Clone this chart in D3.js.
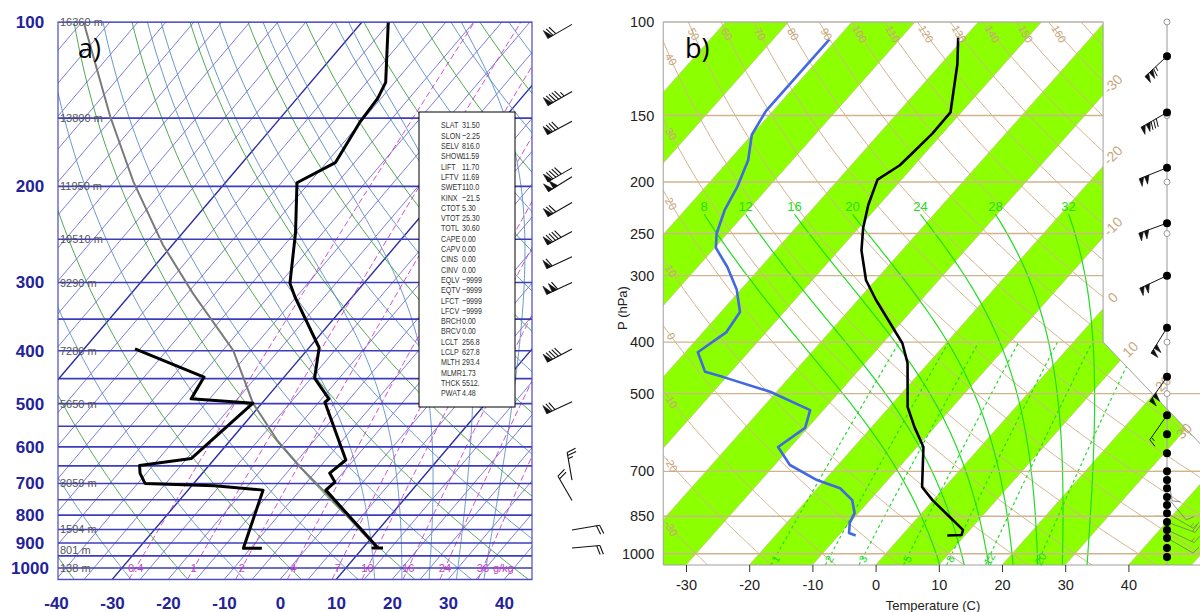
<!DOCTYPE html>
<html>
<head>
<meta charset="utf-8">
<script src="https://cdn.jsdelivr.net/npm/d3@7"></script>
<style>
body { margin: 0; background: #fff; }
svg { display: block; }
</style>
</head>
<body>
<script>
// ---------- panel a : GEMPAK style skew-T ----------
var presTicksA = [100, 200, 300, 400, 500, 600, 700, 800, 900, 1000];
var presLinesA = [100, 150, 200, 250, 300, 350, 400, 450, 500, 550, 600, 650, 700, 750, 800, 850, 900, 950, 1000, 1050];
var tempTicksA = [-40, -30, -20, -10, 0, 10, 20, 30, 40];
var heightP = [100, 150, 200, 250, 300, 400, 500, 700, 850, 925, 1000];
var heightLab = ['16360 m', '13800 m', '11950 m', '10510 m', '9290 m', '7280 m', '5650 m', '3059 m', '1504 m', '801 m', '138 m'];
var mixA = [0.4, 1, 2, 4, 7, 10, 16, 24, 36];

var tempA_p = [100, 129, 138, 152, 181, 197, 243, 301, 319, 395, 449, 490, 497, 634, 670, 696, 720, 919, 919, 919];
var tempA_t = [-65.3, -56.6, -55.6, -55.2, -53.4, -57.2, -49.9, -43.2, -40.2, -28.2, -24.4, -18.7, -18.9, -6.4, -7.3, -5.0, -5.4, 12.7, 11.8, 13.6];
var dewA_p = [397, 447, 490, 499, 630, 649, 671, 700, 707, 720, 920, 920];
var dewA_t = [-60.9, -44.3, -43.3, -31.6, -34.2, -42.4, -41.1, -38.7, -25.9, -16.6, -11.3, -8.0];
var parcelA_p = [100, 149, 196, 256, 314, 399, 499, 583, 653, 720, 919];
var parcelA_t = [-119.7, -100.6, -86.6, -71.7, -59.0, -43.2, -31.6, -21.7, -13.5, -5.9, 12.5];

var statNames = ['SLAT', 'SLON', 'SELV', 'SHOW', 'LIFT', 'LFTV', 'SWET', 'KINX', 'CTOT', 'VTOT', 'TOTL', 'CAPE', 'CAPV', 'CINS', 'CINV',
  'EQLV', 'EQTV', 'LFCT', 'LFCV', 'BRCH', 'BRCV', 'LCLT', 'LCLP', 'MLTH', 'MLMR', 'THCK', 'PWAT'];
var statVals = ['31.50', '\u22122.25', '816.0', '11.59', '11.70', '11.69', '110.0', '\u221221.5', '5.30', '25.30', '30.60', '0.00', '0.00', '0.00', '0.00',
  '\u22129999', '\u22129999', '\u22129999', '\u22129999', '0.00', '0.00', '256.8', '627.8', '293.4', '1.73', '5512.', '4.48'];

var windA_p = [101, 134, 152, 185, 192, 214, 242, 269, 300, 397, 496, 690, 752, 852, 919];
var windA_dir = [240, 240, 242, 240, 238, 240, 242, 245, 245, 242, 245, 350, 330, 80, 85];
var windA_spd = [70, 95, 80, 90, 100, 70, 90, 60, 110, 90, 70, 25, 20, 20, 20];

// ---------- panel b : RadioSonde style skew-T ----------
var presTicksB = [100, 150, 200, 250, 300, 400, 500, 700, 850, 1000];
var tempTicksB = [-30, -20, -10, 0, 10, 20, 30, 40];
var mixB = [1, 2, 3, 5, 8, 12, 20];
var satB = [8, 12, 16, 20, 24, 28, 32];
var isoLabB = [-30, -20, -10, 0, 10, 20, 30];

var tempB_p = [107, 120, 148, 162, 176, 186, 198, 221, 244, 269, 306, 333, 402, 438, 530, 578, 630, 749, 793, 853, 902, 922, 924];
var tempB_t = [-61.0, -57.4, -51.7, -51.6, -52.0, -52.3, -53.8, -51.7, -49.3, -46.4, -41.5, -37.2, -26.9, -23.3, -17.1, -13.2, -9.0, -3.6, -0.1, 5.0, 8.9, 9.4, 7.2];
var dewB_p = [108, 147, 163, 182, 204, 226, 250, 266, 289, 319, 351, 383, 418, 455, 465, 496, 537, 580, 630, 681, 727, 753, 793, 839, 875, 914, 924];
var dewB_t = [-81.1, -81.1, -80.0, -77.0, -75.0, -73.7, -71.7, -69.8, -65.3, -60.6, -57.0, -56.3, -58.0, -54.1, -50.6, -41.0, -32.1, -30.4, -32.0, -27.6, -21.2, -16.4, -12.8, -10.6, -10.0, -8.7, -7.3];

var windB_p = [116, 148, 188, 239, 300, 376, 465, 549, 596, 647, 700, 727, 753, 782, 810, 839, 872, 902, 934, 976, 1014];
var windB_dir = [227, 240, 248, 250, 245, 212, 215, 215, 0, 0, 170, 0, 0, 140, 0, 120, 110, 115, 120, 0, 0];
var windB_spd = [115, 130, 100, 100, 100, 100, 100, 15, 0, 0, 10, 0, 0, 10, 0, 15, 20, 15, 10, 0, 0];
var ringB_p = [100, 150, 200, 250, 400, 500];

// ---------- helpers ----------
function zip(ps, ts) { return ps.map(function (p, i) { return {p: p, t: ts[i]}; }); }
function dryT(th, p) { return (th + 273.15) * Math.pow(p / 1000, 0.286) - 273.15; }
function tdW(w, p) { var e = w * p / (622 + w), l = Math.log(e / 6.112); return 243.5 * l / (17.67 - l); }
function satMix(t, p) { var es = 6.112 * Math.exp(17.67 * t / (t + 243.5)); return 0.622 * es / (p - es); }
function lapse(t, p) {
  var T = t + 273.15, rs = satMix(t, p);
  return (287.04 * T + 2.501e6 * rs) / (p * (1005.7 + 2.501e6 * 2.501e6 * rs * 0.622 / (287.04 * T * T)));
}
function moist(t0, pTop) {
  var dp = 5, down = [], t = t0, k1, k2, pp;
  for (pp = 1000; pp < 1050; pp += dp) {
    k1 = lapse(t, pp); k2 = lapse(t + k1 * dp, pp + dp);
    t += 0.5 * (k1 + k2) * dp; down.push({p: pp + dp, t: t});
  }
  var out = down.reverse();
  out.push({p: 1000, t: t0});
  t = t0;
  for (pp = 1000; pp > pTop; pp -= dp) {
    k1 = lapse(t, pp); k2 = lapse(t - k1 * dp, pp - dp);
    t -= 0.5 * (k1 + k2) * dp; out.push({p: pp - dp, t: t});
  }
  return out;
}
var pPath = d3.range(1050, 99, -5);

function drawBarb(g, x0, y0, dir, spd, o) {
  if (!spd) return;
  var r = dir * Math.PI / 180, ux = Math.sin(r), uy = -Math.cos(r);
  var fx = o.side > 0 ? -uy : uy, fy = o.side > 0 ? ux : -ux;
  var tx = x0 + ux * o.len, ty = y0 + uy * o.len;
  g.append('line').attr('x1', x0).attr('y1', y0).attr('x2', tx).attr('y2', ty)
    .attr('stroke', o.color).attr('stroke-width', o.width);
  var s = Math.round(spd / 5) * 5, pos = 0;
  while (s >= 50) {
    var ax0 = tx - ux * pos, ay0 = ty - uy * pos;
    var bx1 = tx - ux * (pos + o.gap * 1.6), by1 = ty - uy * (pos + o.gap * 1.6);
    g.append('path').attr('d', 'M' + ax0 + ',' + ay0 + 'L' + (ax0 + fx * o.feather) + ',' + (ay0 + fy * o.feather) + 'L' + bx1 + ',' + by1 + 'Z')
      .attr('fill', o.color).attr('stroke', o.color).attr('stroke-width', 0.6);
    pos += o.gap * 1.6 + 1; s -= 50;
  }
  if (pos === 0 && s < 10) pos = o.gap;
  while (s >= 5) {
    var f = s >= 10 ? o.feather : o.feather * 0.55;
    var bx = tx - ux * pos, by = ty - uy * pos;
    g.append('line').attr('x1', bx).attr('y1', by)
      .attr('x2', bx + fx * f + ux * f * 0.3).attr('y2', by + fy * f + uy * f * 0.3)
      .attr('stroke', o.color).attr('stroke-width', o.width);
    pos += o.gap; s -= (s >= 10 ? 10 : 5);
  }
}

var svg = d3.select('body').append('svg')
  .attr('width', 1200).attr('height', 612)
  .style('font-family', '"Liberation Sans", Arial, sans-serif');
var defs = svg.append('defs');

// ================= panel a =================
var yA = d3.scaleLog().domain([1050, 100]).range([579.6, 22]);
var xA = d3.scaleLinear().domain([-40, 45]).range([56, 532]);
var skA = 0.85;
function ax(t, p) { return xA(t) + skA * (yA(1050) - yA(p)); }
var lineA = d3.line().x(function (d) { return ax(d.t, d.p); }).y(function (d) { return yA(d.p); });

defs.append('clipPath').attr('id', 'clipA').append('rect')
  .attr('x', 58).attr('y', 22).attr('width', 474).attr('height', yA(1050) - 22);

var gA = svg.append('g').attr('clip-path', 'url(#clipA)');

// isotherms
d3.range(-125, 50, 5).forEach(function (t) {
  var dark = (t === -70 || t === -30 || t === 10);
  gA.append('line')
    .attr('x1', ax(t, 1050)).attr('y1', yA(1050)).attr('x2', ax(t, 100)).attr('y2', yA(100))
    .attr('stroke', dark ? '#2a2aa6' : '#6e6ed8').attr('stroke-width', dark ? 1.4 : 0.9);
});
// dry adiabats
d3.range(-50, 190, 10).forEach(function (th) {
  gA.append('path').attr('d', lineA(pPath.map(function (p) { return {p: p, t: dryT(th, p)}; })))
    .attr('fill', 'none').attr('stroke', th % 20 === 0 ? '#3c9e3c' : '#5a8cc4').attr('stroke-width', 0.9);
});
// moist adiabats
d3.range(15, 40, 5).forEach(function (t0) {
  gA.append('path').attr('d', lineA(moist(t0, 100)))
    .attr('fill', 'none').attr('stroke', '#5a8cc4').attr('stroke-width', 0.9);
});
// mixing ratio
mixA.forEach(function (w) {
  gA.append('path').attr('d', lineA(d3.range(1050, 99, -10).map(function (p) { return {p: p, t: tdW(w, p)}; })))
    .attr('fill', 'none').attr('stroke', '#c63ec6').attr('stroke-width', 0.9).attr('stroke-dasharray', '6,3');
});
// pressure lines
presLinesA.forEach(function (p) {
  gA.append('line').attr('x1', 58).attr('x2', 532).attr('y1', yA(p)).attr('y2', yA(p))
    .attr('stroke', '#3c3cbc').attr('stroke-width', 1.6);
});
// profiles
gA.append('path').attr('d', lineA(zip(parcelA_p, parcelA_t)))
  .attr('fill', 'none').attr('stroke', '#7a7a7a').attr('stroke-width', 2);
gA.append('path').attr('d', lineA(zip(tempA_p, tempA_t)))
  .attr('fill', 'none').attr('stroke', '#000').attr('stroke-width', 3).attr('stroke-linejoin', 'round');
gA.append('path').attr('d', lineA(zip(dewA_p, dewA_t)))
  .attr('fill', 'none').attr('stroke', '#000').attr('stroke-width', 3).attr('stroke-linejoin', 'round');

svg.append('rect').attr('x', 58).attr('y', 22).attr('width', 474).attr('height', yA(1050) - 22)
  .attr('fill', 'none').attr('stroke', '#4a4ac4').attr('stroke-width', 1.2);

// height labels
heightP.forEach(function (p, i) {
  svg.append('text').attr('x', 60).attr('y', yA(p) + 4).text(heightLab[i])
    .attr('font-size', 11).attr('fill', '#555');
});
// mixing ratio labels
mixA.forEach(function (w) {
  svg.append('text').attr('x', ax(tdW(w, 1000), 1000)).attr('y', yA(1000) + 4)
    .attr('text-anchor', 'middle').attr('font-size', 11).attr('fill', '#c63ec6').text(w);
});
svg.append('text').attr('x', ax(tdW(36, 1000), 1000) + 10).attr('y', yA(1000) + 4)
  .attr('font-size', 11).attr('fill', '#c63ec6').text('g/kg');

// axes a
var axLA = svg.append('g').attr('transform', 'translate(30,0)')
  .call(d3.axisLeft(yA).tickValues(presTicksA).tickSize(0).tickFormat(function (d) { return d; }));
axLA.select('.domain').remove();
axLA.selectAll('text').attr('x', 0).attr('text-anchor', 'middle')
  .attr('font-size', 17).attr('font-weight', 'bold').attr('fill', '#22229a')
  .attr('font-family', '"Liberation Sans", Arial, sans-serif');
var axBA = svg.append('g').attr('transform', 'translate(0,590)')
  .call(d3.axisBottom(xA).tickValues(tempTicksA).tickSize(0).tickPadding(7).tickFormat(function (d) { return d; }));
axBA.select('.domain').remove();
axBA.selectAll('text').attr('font-size', 17).attr('font-weight', 'bold').attr('fill', '#22229a')
  .attr('font-family', '"Liberation Sans", Arial, sans-serif');

// stats box
svg.append('rect').attr('x', 419).attr('y', 112).attr('width', 96).attr('height', 295)
  .attr('fill', '#fff').attr('stroke', '#000').attr('stroke-width', 1);
var gS = svg.append('g').attr('transform', 'translate(441,0) scale(0.75,1)');
statNames.forEach(function (n, i) {
  var y = 128.5 + i * 10.3;
  gS.append('text').attr('x', 0).attr('y', y).text(n).attr('font-size', 9.5).attr('fill', '#333');
  gS.append('text').attr('x', 28).attr('y', y).text(statVals[i]).attr('font-size', 9.5).attr('fill', '#333');
});

// winds a
var gWA = svg.append('g');
windA_p.forEach(function (p, i) {
  drawBarb(gWA, 572, yA(p), windA_dir[i], windA_spd[i], {len: 28, feather: 9, gap: 3.2, side: 1, color: '#111', width: 1.1});
});

svg.append('text').attr('x', 78).attr('y', 58).text('a)')
  .attr('font-size', 27).attr('font-family', '"Open Sans", sans-serif').attr('fill', '#000');

// ================= panel b =================
var yB = d3.scaleLog().domain([1050, 100]).range([565, 21.9]);
var xB = d3.scaleLinear().domain([-30, 40]).range([686, 1128.4]);
var skB = 0.8874;
function bx(t, p) { return xB(t) + skB * (yB(1050) - yB(p)); }
var lineB = d3.line().x(function (d) { return bx(d.t, d.p); }).y(function (d) { return yB(d.p); });

var leftB = bx(-33.6, 1050), kinkX = bx(4.7, 400), maxX = bx(50, 1000);
var polyB = [[leftB, yB(100)], [leftB, yB(1050)], [maxX, yB(1050)], [maxX, yB(625)], [kinkX, yB(400)], [kinkX, yB(100)]];
defs.append('clipPath').attr('id', 'clipB').append('polygon')
  .attr('points', polyB.map(function (d) { return d.join(','); }).join(' '));

var gB = svg.append('g').attr('clip-path', 'url(#clipB)');
var TAN = '#d2b48c', GRN = '#22dd22';

// green isotherm bands
d3.range(-100, 50, 20).forEach(function (t) {
  var pts = [[bx(t, 1050), yB(1050)], [bx(t + 10, 1050), yB(1050)], [bx(t + 10, 100), yB(100)], [bx(t, 100), yB(100)]];
  gB.append('polygon').attr('points', pts.map(function (d) { return d.join(','); }).join(' '))
    .attr('fill', '#8cff00');
});
d3.range(-100, 60, 10).forEach(function (t) {
  gB.append('line').attr('x1', bx(t, 1050)).attr('y1', yB(1050)).attr('x2', bx(t, 100)).attr('y2', yB(100))
    .attr('stroke', TAN).attr('stroke-width', 0.6);
});
// dry adiabats
d3.range(-30, 180, 10).forEach(function (th) {
  gB.append('path').attr('d', lineB(pPath.map(function (p) { return {p: p, t: dryT(th, p)}; })))
    .attr('fill', 'none').attr('stroke', TAN).attr('stroke-width', 1);
});
// saturated adiabats
satB.forEach(function (t0) {
  gB.append('path').attr('d', lineB(moist(t0, 230)))
    .attr('fill', 'none').attr('stroke', GRN).attr('stroke-width', 1.2);
});
// mixing ratio
mixB.forEach(function (w) {
  gB.append('path').attr('d', lineB(d3.range(1050, 399, -10).map(function (p) { return {p: p, t: tdW(w, p)}; })))
    .attr('fill', 'none').attr('stroke', GRN).attr('stroke-width', 1.2).attr('stroke-dasharray', '3,3');
});
// pressure lines
presTicksB.forEach(function (p) {
  gB.append('line').attr('x1', leftB).attr('x2', 1201).attr('y1', yB(p)).attr('y2', yB(p))
    .attr('stroke', TAN).attr('stroke-width', 1.4);
});
[500, 700, 850, 1000].forEach(function (p) {
  svg.append('line').attr('x1', bx(20, 500)).attr('x2', 1200).attr('y1', yB(p)).attr('y2', yB(p))
    .attr('stroke', TAN).attr('stroke-width', 1.4);
});
svg.append('polygon').attr('points', polyB.map(function (d) { return d.join(','); }).join(' '))
  .attr('fill', 'none').attr('stroke', '#a0a0a0').attr('stroke-width', 1);

// profiles b
gB.append('path').attr('d', lineB(zip(dewB_p, dewB_t)))
  .attr('fill', 'none').attr('stroke', '#4169e1').attr('stroke-width', 2.6).attr('stroke-linejoin', 'round');
gB.append('path').attr('d', lineB(zip(tempB_p, tempB_t)))
  .attr('fill', 'none').attr('stroke', '#000').attr('stroke-width', 2.6).attr('stroke-linejoin', 'round');

// dry adiabat labels
var p34 = yB.invert(34);
d3.range(-30, 170, 10).forEach(function (th) {
  var topX = bx(dryT(th, 100), 100), x, y;
  if (topX >= 672) {
    x = bx(dryT(th, p34), p34); y = 34;
  } else {
    var lo = Math.log(100), hi = Math.log(1050);
    for (var k = 0; k < 40; k++) {
      var mid = (lo + hi) / 2, pm = Math.exp(mid);
      if (bx(dryT(th, pm), pm) < 671) lo = mid; else hi = mid;
    }
    var pe = Math.exp((lo + hi) / 2);
    x = 671; y = yB(pe);
  }
  svg.append('text').attr('transform', 'translate(' + x + ',' + y + ') rotate(60)')
    .attr('text-anchor', 'middle').attr('dy', '0.35em').attr('font-size', 11).attr('fill', '#c9a57a').text(th);
});
// isotherm labels
var kY = yB(400), mY = yB(625), dslope = (maxX - kinkX) / (mY - kY);
isoLabB.forEach(function (t) {
  var yi;
  if (t <= 0) {
    yi = yB(1050) - (kinkX - xB(t)) / skB;
  } else {
    yi = (xB(t) + skB * yB(1050) - kinkX + kY * dslope) / (dslope + skB);
  }
  var y = yi - 11, x = xB(t) + skB * (yB(1050) - y);
  if (x > 1184) { x = 1184; y = yB(1050) - (x - xB(t)) / skB; }
  svg.append('text').attr('transform', 'translate(' + x + ',' + y + ') rotate(-45)')
    .attr('text-anchor', 'middle').attr('dy', '0.35em').attr('font-size', 14).attr('fill', '#c9a57a').text(t);
});
// saturated adiabat labels
satB.forEach(function (t0) {
  var m = moist(t0, 230), e = m[m.length - 1];
  svg.append('text').attr('x', bx(e.t, e.p)).attr('y', yB(e.p) - 3)
    .attr('text-anchor', 'middle').attr('font-size', 13).attr('fill', GRN).text(t0);
});
// mixing ratio labels
var pm560 = yB.invert(559);
mixB.forEach(function (w) {
  var x = bx(tdW(w, pm560), pm560);
  svg.append('text').attr('transform', 'translate(' + (x + 1) + ',559) rotate(-60)')
    .attr('text-anchor', 'middle').attr('dy', '0.35em').attr('font-size', 11).attr('fill', GRN).text(w);
});

// axes b
var axLB = svg.append('g').attr('transform', 'translate(' + leftB + ',0)')
  .call(d3.axisLeft(yB).tickValues(presTicksB).tickSize(0).tickPadding(9).tickFormat(function (d) { return d; }));
axLB.select('.domain').remove();
axLB.selectAll('text').attr('font-size', 14.5).attr('fill', '#222').attr('font-family', '"Liberation Sans", Arial, sans-serif');
var axBB = svg.append('g').attr('transform', 'translate(0,' + yB(1050) + ')')
  .call(d3.axisBottom(xB).tickValues(tempTicksB).tickSize(7).tickPadding(8).tickFormat(function (d) { return d; }));
axBB.select('.domain').remove();
axBB.selectAll('line').attr('stroke', '#333');
axBB.selectAll('text').attr('font-size', 14.5).attr('fill', '#222').attr('font-family', '"Liberation Sans", Arial, sans-serif');

svg.append('text').attr('transform', 'translate(627,308) rotate(-90)').attr('text-anchor', 'middle')
  .attr('font-size', 13).attr('fill', '#222').text('P (hPa)');
svg.append('text').attr('x', 933).attr('y', 610).attr('text-anchor', 'middle')
  .attr('font-size', 13).attr('fill', '#222').text('Temperature (C)');

// wind column b
var WX = 1167;
svg.append('line').attr('x1', WX).attr('x2', WX).attr('y1', yB(100)).attr('y2', yB(1050))
  .attr('stroke', '#a8a8a8').attr('stroke-width', 1.2);
ringB_p.forEach(function (p) {
  svg.append('circle').attr('cx', WX).attr('cy', yB(p)).attr('r', 3)
    .attr('fill', '#fff').attr('stroke', '#999').attr('stroke-width', 1);
});
var gWB = svg.append('g');
windB_p.forEach(function (p, i) {
  var dark = p < 560;
  drawBarb(gWB, WX, yB(p), windB_dir[i], windB_spd[i],
    {len: 30, feather: 8, gap: 3, side: -1, color: dark ? '#111' : '#777', width: dark ? 1 : 0.8});
});
windB_p.forEach(function (p) {
  svg.append('circle').attr('cx', WX).attr('cy', yB(p)).attr('r', 4).attr('fill', '#000');
});

svg.append('text').attr('x', 685).attr('y', 58).text('b)')
  .attr('font-size', 27).attr('font-family', '"Open Sans", sans-serif').attr('fill', '#000');
</script>
</body>
</html>
